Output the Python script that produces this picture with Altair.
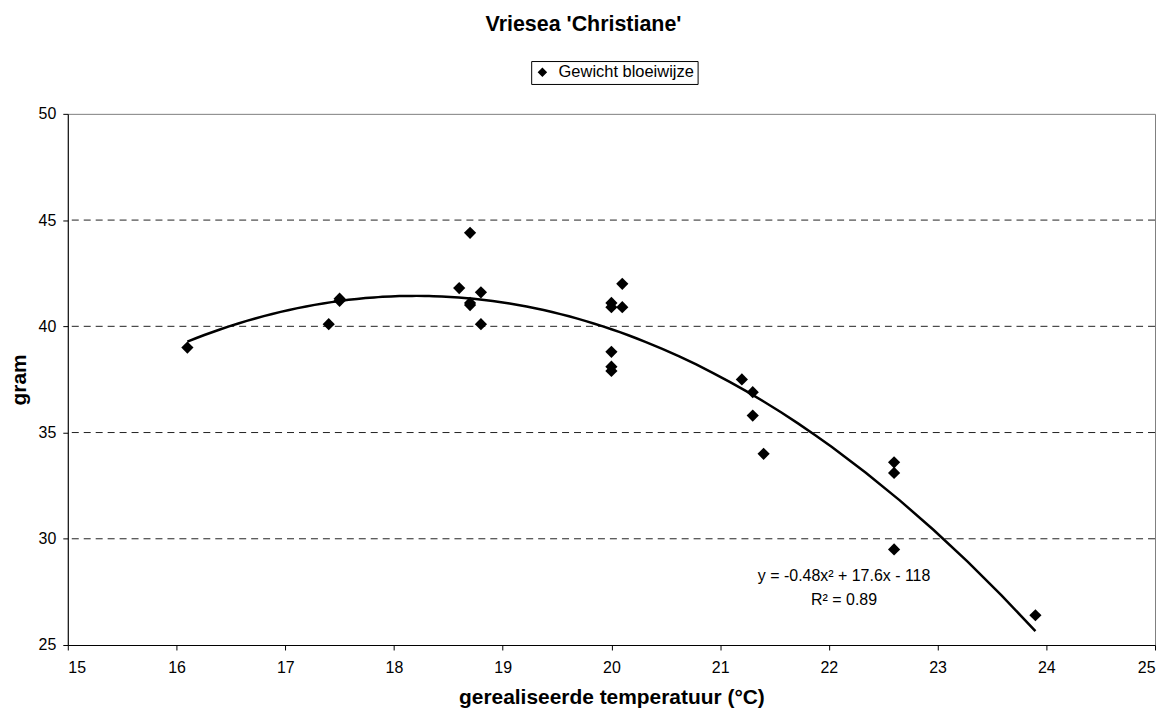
import altair as alt
import pandas as pd

# ---- data ----
temperature = [16.1, 17.4, 17.5, 17.5, 18.6, 18.7, 18.7, 18.7, 18.8, 18.8,
               20.0, 20.0, 20.0, 20.0, 20.0, 20.1, 20.1,
               21.2, 21.3, 21.3, 21.4, 22.6, 22.6, 22.6, 23.9]
weight = [39.0, 40.1, 41.2, 41.3, 41.8, 44.4, 41.0, 41.1, 41.6, 40.1,
          41.1, 40.9, 38.8, 38.1, 37.9, 42.0, 40.9,
          37.5, 36.9, 35.8, 34.0, 33.6, 33.1, 29.5, 26.4]
series_name = "Gewicht bloeiwijze"
grid_values = [30, 35, 40, 45]
x_ticks = [15, 16, 17, 18, 19, 20, 21, 22, 23, 24, 25]
y_ticks = [25, 30, 35, 40, 45, 50]
eq_lines = ["y = -0.48x\u00b2 + 17.6x - 118", "R\u00b2 = 0.89"]
eq_x = [22.14, 22.14]
eq_y = [28.0, 26.88]

df = pd.DataFrame({"temp": temperature, "weight": weight, "series": series_name})
grid_df = pd.DataFrame({"g": grid_values})
eq_df = pd.DataFrame({"label": eq_lines, "x": eq_x, "y": eq_y})

FONT = "Liberation Sans"
xscale = alt.Scale(domain=[15, 25], nice=False, zero=False)
yscale = alt.Scale(domain=[25, 50], nice=False, zero=False)

x_axis = alt.Axis(values=x_ticks, title="gerealiseerde temperatuur (\u00b0C)",
                  labelPadding=10, titlePadding=11, format="d")
y_axis = alt.Axis(values=y_ticks, title="gram", labelPadding=7, titlePadding=9,
                  format="d")

grid = alt.Chart(grid_df).mark_rule(color="#222222", strokeWidth=1,
                                    strokeDash=[7, 5]).encode(
    y=alt.Y("g:Q", scale=yscale, axis=y_axis)
)

trend = alt.Chart(df).transform_regression(
    "temp", "weight", method="poly", order=2
).mark_line(color="black", strokeWidth=2.5).encode(
    x=alt.X("temp:Q", scale=xscale, axis=x_axis),
    y=alt.Y("weight:Q", scale=yscale, axis=y_axis),
)

points = alt.Chart(df).mark_point(shape="diamond", filled=True, size=150,
                                  opacity=1).encode(
    x=alt.X("temp:Q", scale=xscale, axis=x_axis),
    y=alt.Y("weight:Q", scale=yscale, axis=y_axis),
    color=alt.Color("series:N", scale=alt.Scale(range=["black"]),
                    legend=alt.Legend(title=None, orient="none", legendX=465,
                                      legendY=-53, symbolType="diamond",
                                      symbolSize=55, symbolFillColor="black",
                                      symbolStrokeColor="black",
                                      labelFont=FONT, labelFontSize=16.5,
                                      labelColor="black", strokeColor="black",
                                      fillColor="white", padding=3,
                                      labelOffset=8, cornerRadius=0)),
)

equation = alt.Chart(eq_df).mark_text(align="center", baseline="alphabetic",
                                      font=FONT, fontSize=16,
                                      color="black").encode(
    x=alt.X("x:Q", scale=xscale, axis=x_axis),
    y=alt.Y("y:Q", scale=yscale, axis=y_axis),
    text="label:N",
)

chart = alt.layer(grid, trend, points, equation).properties(
    width=1091,
    height=533,
    title=alt.TitleParams(text="Vriesea 'Christiane'", font=FONT, fontSize=21.5,
                          fontWeight="bold", anchor="middle", dx=-28,
                          offset=8, baseline="alphabetic", color="black"),
    autosize=alt.AutoSizeParams(type="none"),
    padding={"left": 60, "top": 105, "right": 5, "bottom": 65},
).configure_view(
    stroke="#808080", strokeWidth=1
).configure_axis(
    domainColor="black", tickColor="black", labelColor="black",
    titleColor="black", labelFont=FONT, titleFont=FONT, labelFontSize=16,
    titleFontSize=21, titleFontWeight="bold", grid=False, tickSize=5,
)

chart.save("out.html", embed_options={"renderer": "svg", "actions": False})
